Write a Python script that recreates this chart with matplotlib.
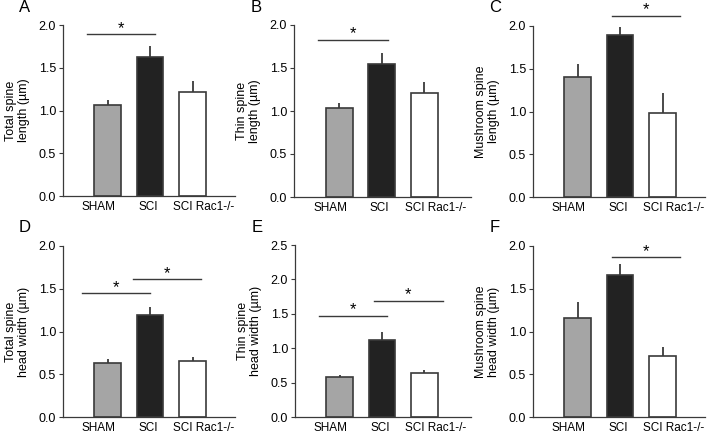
import matplotlib.pyplot as plt

plt.rcParams['font.family'] = ['Liberation Sans', 'DejaVu Sans']

groups = ['SHAM', 'SCI', 'SCI Rac1-/-']
letters = ['A', 'B', 'C', 'D', 'E', 'F']
ylabels = ['Total spine\nlength (µm)', 'Thin spine\nlength (µm)', 'Mushroom spine\nlength (µm)',
           'Total spine\nhead width (µm)', 'Thin spine\nhead width (µm)', 'Mushroom spine\nhead width (µm)']
means = [[1.07, 1.62, 1.22],
         [1.04, 1.55, 1.21],
         [1.40, 1.90, 0.98],
         [0.63, 1.19, 0.65],
         [0.58, 1.12, 0.64],
         [1.16, 1.66, 0.71]]
sems = [[0.05, 0.13, 0.13],
        [0.05, 0.13, 0.13],
        [0.15, 0.09, 0.24],
        [0.05, 0.10, 0.05],
        [0.03, 0.11, 0.05],
        [0.19, 0.13, 0.11]]
ymax = [2.0, 2.0, 2.0, 2.0, 2.5, 2.0]
# significance bars: (x start, x end, height)
sig = [[(-0.48, 1.12, 1.89)],
       [(-0.5, 1.14, 1.83)],
       [(0.82, 2.42, 2.12)],
       [(-0.6, 1.0, 1.45), (0.6, 2.2, 1.61)],
       [(-0.48, 1.12, 1.47), (0.81, 2.44, 1.69)],
       [(0.82, 2.42, 1.87)]]

colors = ['#a5a5a5', '#222222', 'white']
label_pos = [-0.22, 0.95, 2.27]

W, H = 708, 434
fig = plt.figure(figsize=(W / 100, H / 100), dpi=100)

# axes boxes in pixels (left, top, right, bottom)
boxes = [(63, 25, 235, 196), (294, 25, 471, 197), (533, 26, 705, 197),
         (63, 246, 235, 417), (295, 245, 471, 417), (533, 246, 705, 417)]
xlims = [(-1.05, 3.0), (-1.07, 3.1), (-1.05, 3.0), (-1.05, 3.0), (-1.05, 3.1), (-1.05, 3.0)]

for i in range(6):
    l, t, r, b = boxes[i]
    ax = fig.add_axes([l / W, 1 - b / H, (r - l) / W, (b - t) / H])
    x = range(len(groups))
    ax.bar(x, means[i], width=0.63, color=colors, edgecolor='#3a3a3a', linewidth=1.2, zorder=2)
    ax.errorbar(x, means[i], yerr=[[0, 0, 0], sems[i]], fmt='none', ecolor='#3a3a3a',
                elinewidth=1.3, capsize=0, zorder=1)
    ax.set_xlim(*xlims[i])
    ax.set_ylim(0, ymax[i])
    n = int(ymax[i] / 0.5) + 1
    ax.set_yticks([k * 0.5 for k in range(n)])
    ax.set_yticklabels(['%.1f' % (k * 0.5) for k in range(n)])
    ax.set_xticks(label_pos)
    ax.set_xticklabels(groups)
    ax.tick_params(axis='x', length=0, pad=3.5, labelsize=8.5)
    ax.tick_params(axis='y', length=3, width=0.8, direction='out', labelsize=9, pad=2,
                   color='#3a3a3a')
    for s in ['top', 'right']:
        ax.spines[s].set_visible(False)
    for s in ['left', 'bottom']:
        ax.spines[s].set_color('#3a3a3a')
        ax.spines[s].set_linewidth(0.9)
    ax.set_ylabel(ylabels[i], fontsize=9, labelpad=6, linespacing=1.1)
    for x0, x1, yh in sig[i]:
        ax.plot([x0, x1], [yh, yh], color='#3a3a3a', lw=1.0, clip_on=False)
        ax.annotate('*', xy=((x0 + x1) / 2, yh), xytext=(0, 1), textcoords='offset points',
                    ha='center', va='baseline', fontsize=12, annotation_clip=False)
    fig.text((l - 38) / W, 1 - (t - 18) / H, letters[i], fontsize=12, va='center', ha='center')

fig.savefig('out.png', dpi=100)
